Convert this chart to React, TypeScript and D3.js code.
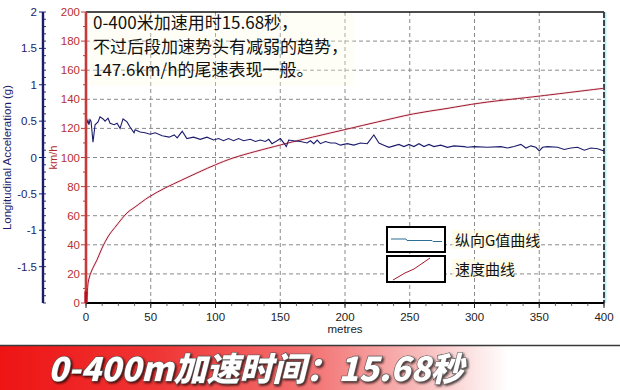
import React from 'react';
import * as d3 from 'd3';

const W = 620;
const H = 390;

const distTicks = [0, 50, 100, 150, 200, 250, 300, 350, 400];
const speedTicks = [0, 20, 40, 60, 80, 100, 120, 140, 160, 180, 200];
const gTicks = [-1.5, -1, -0.5, 0, 0.5, 1, 1.5, 2];

const speedMetres = [0, 0.8, 2, 4.6, 8.5, 12.4, 17.8, 22.4, 31.7, 37.9, 48.7, 61, 74, 88, 100, 113.7, 150, 175, 202, 225, 253, 278, 305, 351, 400];
const speedKmh = [0, 5.5, 15.8, 22.7, 29.6, 37.8, 46.7, 52, 61.9, 66, 72.9, 79, 84.5, 90.3, 95, 99.7, 108.6, 114, 119.6, 124.4, 130, 133.6, 137.5, 142.3, 147.6];

const gMetres = [0, 0.4, 0.8, 1.5, 2.3, 3.1, 3.9, 5.4, 7.0, 9.3, 10.8, 13.2, 14.7, 17.0, 18.6, 21.7, 24.0, 26.3, 28.6, 31.7, 34.0, 37.1, 37.9, 41.8, 45.6, 49.5, 53.4, 58.8, 64.2, 68.1, 70.4, 74.3, 77.9, 83.0, 88.2, 93.4, 98.5, 102.4, 106.2, 110.1, 114.0, 117.8, 121.7, 126.9, 130.8, 134.6, 138.5, 141.1, 143.6, 147.5, 150.1, 152.7, 154.7, 156.5, 160.4, 165.6, 170.7, 173.3, 175.9, 178.5, 181.0, 184.9, 188.8, 192.6, 196.5, 201.7, 206.8, 212.0, 217.2, 222.3, 226.2, 230.0, 233.9, 237.8, 241.6, 245.5, 249.4, 253.2, 257.1, 261.0, 264.8, 268.7, 273.9, 279.1, 284.2, 291.9, 294.5, 299.7, 310.0, 320.3, 325.5, 330.6, 335.8, 339.7, 343.5, 347.4, 350.0, 352.6, 356.4, 364.2, 369.3, 374.5, 379.6, 384.8, 389.9, 395.1, 400];
const gValues = [0.44, 0.52, 0.47, 0.51, 0.45, 0.52, 0.50, 0.21, 0.45, 0.49, 0.56, 0.53, 0.50, 0.54, 0.47, 0.45, 0.47, 0.40, 0.53, 0.49, 0.42, 0.34, 0.38, 0.35, 0.34, 0.32, 0.34, 0.30, 0.28, 0.31, 0.27, 0.36, 0.26, 0.28, 0.25, 0.28, 0.24, 0.26, 0.23, 0.26, 0.23, 0.26, 0.23, 0.25, 0.22, 0.24, 0.22, 0.25, 0.19, 0.23, 0.26, 0.20, 0.15, 0.24, 0.23, 0.22, 0.20, 0.23, 0.19, 0.24, 0.19, 0.22, 0.20, 0.20, 0.17, 0.19, 0.17, 0.20, 0.19, 0.31, 0.20, 0.17, 0.14, 0.16, 0.18, 0.15, 0.18, 0.15, 0.19, 0.15, 0.18, 0.15, 0.17, 0.14, 0.16, 0.15, 0.14, 0.15, 0.14, 0.15, 0.13, 0.15, 0.18, 0.13, 0.16, 0.14, 0.09, 0.14, 0.15, 0.14, 0.11, 0.13, 0.14, 0.10, 0.13, 0.12, 0.09];

const noteLines = ['0-400米加速用时15.68秒，', '不过后段加速势头有减弱的趋势，', '147.6km/h的尾速表现一般。'];
const legendLabels = ['纵向G值曲线', '速度曲线'];
const bannerText = '0-400m加速时间：15.68秒';
const xTitle = 'metres';
const gTitle = 'Longitudinal Acceleration (g)';
const speedTitle = 'km/h';

const LEFT = 86;
const RIGHT = 604;
const TOP = 12;
const BOTTOM = 303;
const GAXIS = 43;

const x = d3.scaleLinear().domain([0, 400]).range([LEFT, RIGHT]);
const ySpeed = d3.scaleLinear().domain([0, 200]).range([BOTTOM, TOP]);
const yG = d3.scaleLinear().domain([-2, 2]).range([BOTTOM, TOP]);

const axisFont = '"Liberation Sans", Arial, sans-serif';
const cjkFont = '"Noto Sans CJK SC", "Noto Sans", sans-serif';

export default function App() {
  const speedPts: [number, number][] = speedMetres.map((m, i) => [m, speedKmh[i]]);
  const gPts: [number, number][] = gMetres.map((m, i) => [m, gValues[i]]);
  const speedLine = d3.line<[number, number]>().x(d => x(d[0])).y(d => ySpeed(d[1])).curve(d3.curveCatmullRom.alpha(0.5));
  const gLine = d3.line<[number, number]>().x(d => x(d[0])).y(d => yG(d[1]));

  const minorX = d3.range(0, 400.01, 12.5);
  const minorSpeed = d3.range(0, 200.01, 10);
  const minorG = d3.range(-2, 2.001, 0.1);

  return (
    <svg width={W} height={H} style={{ position: 'absolute', left: 0, top: 0, background: '#fff' }}>
      <defs>
        <linearGradient id="bannerGrad" x1="0" x2="1" y1="0" y2="0">
          <stop offset="0" stopColor="#ee1414" />
          <stop offset="0.25" stopColor="#f03434" />
          <stop offset="0.5" stopColor="#f37272" />
          <stop offset="0.68" stopColor="#f8bcbc" />
          <stop offset="0.82" stopColor="#ffffff" />
          <stop offset="1" stopColor="#ffffff" />
        </linearGradient>
        <filter id="shadow" x="-5%" y="-30%" width="110%" height="160%">
          <feDropShadow dx="1.5" dy="1.5" stdDeviation="1" floodColor="#000" floodOpacity="0.75" />
        </filter>
      </defs>
      <rect x={0} y={0} width={W} height={H} fill="#fff" />

      {/* grid */}
      {speedTicks.filter(v => v > 0 && v < 200).map(v => (
        <line key={'hg' + v} x1={LEFT} x2={RIGHT} y1={ySpeed(v)} y2={ySpeed(v)} stroke="#8a8a8a" strokeDasharray="4,3" strokeWidth={1} />
      ))}
      {distTicks.filter(v => v > 0 && v < 400).map(v => (
        <line key={'vg' + v} x1={x(v)} x2={x(v)} y1={TOP} y2={BOTTOM} stroke="#8a8a8a" strokeDasharray="4,3" strokeWidth={1} />
      ))}

      {/* note text */}
      <rect x={LEFT + 3} y={TOP + 2} width={265} height={72} fill="#fffbe0" opacity={0.3} />
      {noteLines.map((t, i) => (
        <text key={'n' + i} x={93} y={29 + i * 23.5} fontFamily={cjkFont} fontSize={17} fill="#111">{t}</text>
      ))}

      {/* frame */}
      <line x1={LEFT} x2={RIGHT} y1={TOP} y2={TOP} stroke="#111" strokeWidth={1.5} />
      <line x1={RIGHT + 1} x2={RIGHT + 1} y1={TOP} y2={BOTTOM} stroke="#bfeff0" strokeWidth={3} />
      <line x1={RIGHT} x2={RIGHT} y1={TOP} y2={BOTTOM} stroke="#111" strokeWidth={1.5} strokeDasharray="6,2" />

      {/* speed curve */}
      <path d={speedLine(speedPts) || ''} fill="none" stroke="#f2b6bf" strokeWidth={2.6} opacity={0.35} />
      <path d={speedLine(speedPts) || ''} fill="none" stroke="#9c1a30" strokeWidth={1} />

      {/* G curve */}
      <path d={gLine(gPts) || ''} fill="none" stroke="#1c1c6c" strokeWidth={1.1} />

      {/* x axis */}
      <line x1={LEFT} x2={RIGHT} y1={BOTTOM} y2={BOTTOM} stroke="#000" strokeWidth={2.2} />
      {minorX.map(v => (
        <line key={'mx' + v} x1={x(v)} x2={x(v)} y1={BOTTOM} y2={BOTTOM + 3} stroke="#444" strokeWidth={0.8} />
      ))}
      {distTicks.map(v => (
        <g key={'xt' + v}>
          <line x1={x(v)} x2={x(v)} y1={BOTTOM} y2={BOTTOM + 5} stroke="#222" strokeWidth={1} />
          <text x={x(v)} y={BOTTOM + 18} textAnchor="middle" fontFamily={axisFont} fontSize={11.5} fill="#222">{v}</text>
        </g>
      ))}
      <text x={(LEFT + RIGHT) / 2} y={333} textAnchor="middle" fontFamily={axisFont} fontSize={11.5} fill="#222">{xTitle}</text>

      {/* speed axis */}
      {minorSpeed.map(v => (
        <line key={'ms' + v} x1={LEFT - (v % 20 === 0 ? 5 : 3)} x2={LEFT} y1={ySpeed(v)} y2={ySpeed(v)} stroke="#c03a3a" strokeWidth={1} />
      ))}
      {speedTicks.map(v => (
        <text key={'st' + v} x={LEFT - 6} y={ySpeed(v) + 4} textAnchor="end" fontFamily={axisFont} fontSize={11.5} fill="#b83030">{v}</text>
      ))}
      <line x1={LEFT} x2={LEFT} y1={TOP} y2={BOTTOM} stroke="#c83a3a" strokeWidth={2.6} />
      <line x1={LEFT} x2={LEFT} y1={ySpeed(8)} y2={BOTTOM} stroke="#b8101e" strokeWidth={3.2} />
      <text transform={`translate(57,${(TOP + BOTTOM) / 2}) rotate(-90)`} textAnchor="middle" fontFamily={axisFont} fontSize={11} fill="#b02a2a">{speedTitle}</text>

      {/* G axis */}
      <line x1={GAXIS} x2={GAXIS} y1={TOP} y2={BOTTOM} stroke="#1c1c6c" strokeWidth={2.4} />
      {minorG.map(v => (
        <line key={'mg' + v.toFixed(1)} x1={GAXIS} x2={GAXIS + 3} y1={yG(v)} y2={yG(v)} stroke="#1c1c6c" strokeWidth={0.9} />
      ))}
      {gTicks.map(v => (
        <g key={'gt' + v}>
          <line x1={GAXIS - 4} x2={GAXIS} y1={yG(v)} y2={yG(v)} stroke="#1c1c6c" strokeWidth={1} />
          <text x={GAXIS - 6} y={yG(v) + 4} textAnchor="end" fontFamily={axisFont} fontSize={11.5} fill="#1c1c6c">{v}</text>
        </g>
      ))}
      <text transform={`translate(11,${(TOP + BOTTOM) / 2}) rotate(-90)`} textAnchor="middle" fontFamily={axisFont} fontSize={11.5} fill="#1c1c6c">{gTitle}</text>

      {/* legend */}
      <rect x={387} y={227} width={58} height={25} fill="#fff" stroke="#000" strokeWidth={2} />
      <path d="M391,239 L406,239 L407,240.5 L432,240.5 L433,241.5 L442,241.5" fill="none" stroke="#2c6e96" strokeWidth={1} />
      <rect x={387} y={256} width={58} height={26} fill="#fff" stroke="#000" strokeWidth={2} />
      <path d="M393,280 L405,273 L414,269 L430,258" fill="none" stroke="#a01a2e" strokeWidth={1} />
      <rect x={452} y={230} width={88} height={19} fill="#fffbe0" opacity={0.7} />
      <rect x={452} y={259} width={62} height={19} fill="#fffbe0" opacity={0.7} />
      {legendLabels.map((t, i) => (
        <text key={'l' + i} x={455} y={246 + i * 29} fontFamily={cjkFont} fontSize={15} fill="#111">{t}</text>
      ))}

      {/* banner */}
      <rect x={0} y={346} width={W} height={44} fill="url(#bannerGrad)" />
      <line x1={0} x2={W} y1={345.5} y2={345.5} stroke="#3a3a3a" strokeWidth={1.5} />
      <text x={48} y={381} fontFamily={cjkFont} fontSize={33} fontWeight={900} fontStyle="italic" fill="#fff" stroke="#555" strokeWidth={1.2} paintOrder="stroke" filter="url(#shadow)">{bannerText}</text>
    </svg>
  );
}
